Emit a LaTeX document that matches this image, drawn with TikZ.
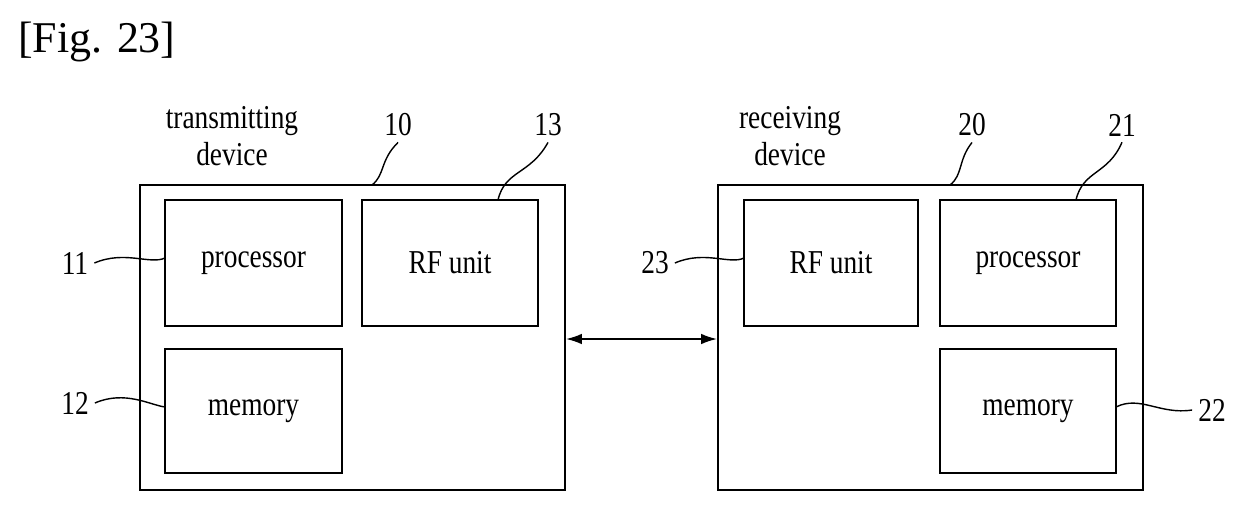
\documentclass[tikz,border=0pt]{standalone}
\usepackage{fontspec}
\setmainfont{Liberation Serif}
\usetikzlibrary{arrows.meta}
\newcommand{\cz}[1]{\scalebox{0.82}[1]{#1}}
\begin{document}
\begin{tikzpicture}[x=0.02cm,y=-0.02cm,
 box/.style={draw,line width=1.2pt,inner sep=0pt},
 lbl/.style={font=\fontsize{19}{21}\selectfont},
 num/.style={font=\fontsize{19}{21}\selectfont},
 lead/.style={line width=0.8pt}]
\useasboundingbox (0,0) rectangle (1249,511);
\node[anchor=west,font=\fontsize{25}{27}\selectfont] (fig) at (12,42) {[Fig. 23]};
% left device
\node[box,minimum width=425*0.02cm,minimum height=305*0.02cm] (T) at (352.5,337.5) {};
\node[box,minimum width=177*0.02cm,minimum height=126*0.02cm,lbl] (tp) at (253.5,263) {\cz{processor}};
\node[box,minimum width=176*0.02cm,minimum height=126*0.02cm,lbl] (trf) at (450,263) {\cz{RF unit}};
\node[box,minimum width=177*0.02cm,minimum height=124*0.02cm,lbl] (tm) at (253.5,411) {\cz{memory}};
% right device
\node[box,minimum width=425*0.02cm,minimum height=305*0.02cm] (R) at (930.5,337.5) {};
\node[box,minimum width=174*0.02cm,minimum height=126*0.02cm,lbl] (rrf) at (831,263) {\cz{RF unit}};
\node[box,minimum width=176*0.02cm,minimum height=126*0.02cm,lbl] (rp) at (1028,263) {\cz{processor}};
\node[box,minimum width=176*0.02cm,minimum height=124*0.02cm,lbl] (rm) at (1028,411) {\cz{memory}};
\draw[line width=0.9pt,{Latex[length=9pt,width=6pt]}-{Latex[length=9pt,width=6pt]}] (T.east |- 0,339) -- (R.west |- 0,339);
% labels
\node[lbl,align=center] (tl) at (232,136) {\cz{transmitting}\\\cz{device}};
\node[lbl,align=center] (rl) at (790,136) {\cz{receiving}\\\cz{device}};
\node[num] (n10) at (398,125) {\cz{10}};
\node[num] (n13) at (548,125) {\cz{13}};
\node[num] (n20) at (972,125) {\cz{20}};
\node[num] (n21) at (1122,125) {\cz{21}};
\node[num] (n11) at (75,263) {\cz{11}};
\node[num] (n12) at (75,403) {\cz{12}};
\node[num] (n23) at (655,263) {\cz{23}};
\node[num] (n22) at (1212,410) {\cz{22}};
% leaders
\draw[lead] (372,185) .. controls (385,175) and (380,160) .. (n10.south);
\draw[lead] (498,200) .. controls (505,170) and (530,175) .. (n13.south);
\draw[lead] (950,185) .. controls (963,175) and (958,160) .. (n20.south);
\draw[lead] (1076,200) .. controls (1083,170) and (1108,175) .. (n21.south);
\draw[lead] (n11.east) .. controls (125,250) and (150,265) .. (165,258);
\draw[lead] (n12.east) .. controls (125,390) and (150,405) .. (165,407);
\draw[lead] (n23.east) .. controls (705,250) and (730,265) .. (744,258);
\draw[lead] (1116,407) .. controls (1140,395) and (1160,415) .. (n22.west);
\end{tikzpicture}
\end{document}
